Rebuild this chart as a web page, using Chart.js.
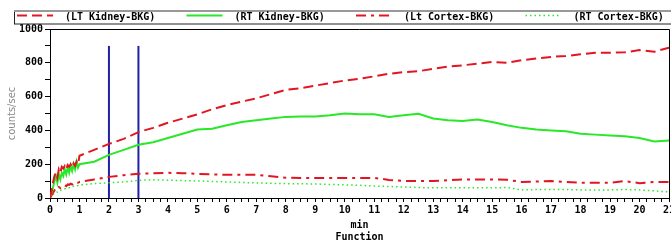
<!DOCTYPE html>
<html lang="en">
<head>
    <meta charset="UTF-8">
    <title>Renogram</title>
    <script src="https://cdn.jsdelivr.net/npm/chart.js@4.4.0/dist/chart.umd.min.js"></script>
    <style>
        body { margin: 0; background: #fff; }
        #wrap { width: 671px; height: 243px; }
    </style>
</head>
<body>
<div id="wrap"><canvas id="renogram" width="671" height="243"></canvas></div>

<script>
    // time (min)
    var times = [0, 0.05, 0.1, 0.15, 0.2, 0.25, 0.3, 0.35, 0.4, 0.45, 0.5, 0.55, 0.6, 0.65, 0.7, 0.75, 0.8, 0.85, 0.9, 0.95, 1,
        1.5, 2, 2.5, 3, 3.5, 4, 4.5, 5, 5.5, 6, 6.5, 7, 7.5, 8, 8.5, 9, 9.5, 10, 10.5, 11,
        11.5, 12, 12.5, 13, 13.5, 14, 14.5, 15, 15.5, 16, 16.5, 17, 17.5, 18, 18.5, 19, 19.5, 20, 20.5, 21];

    // counts/sec
    var ltKidney = [0, 40, 90, 130, 150, 120, 170, 150, 185, 175, 190, 170, 195, 185, 200, 180, 205, 190, 215, 200, 250,
        285, 320, 350, 390, 415, 445, 470, 495, 525, 550, 570, 590, 615, 640, 650, 665, 680, 695, 705, 720,
        735, 745, 750, 765, 778, 785, 795, 805, 800, 815, 825, 835, 840, 850, 860, 860, 862, 875, 865, 890];
    var rtKidney = [0, 30, 60, 100, 130, 90, 140, 110, 150, 130, 170, 140, 180, 150, 190, 160, 200, 170, 215, 180, 200,
        215, 255, 285, 315, 330, 355, 380, 405, 410, 430, 450, 460, 470, 480, 482, 482, 490, 500, 495, 495,
        480, 490, 498, 470, 460, 455, 465, 450, 430, 415, 405, 400, 395, 380, 375, 370, 365, 355, 335, 340];
    var ltCortex = [0, 15, 30, 45, 55, 50, 65, 60, 70, 70, 75, 70, 80, 78, 85, 80, 88, 85, 92, 90, 95,
        110, 125, 135, 143, 147, 149, 147, 143, 140, 137, 137, 137, 128, 120, 119, 119, 119, 119, 119, 119,
        107, 101, 101, 101, 105, 110, 110, 110, 108, 95, 97, 100, 95, 90, 90, 90, 100, 88, 95, 95];
    var rtCortex = [0, 10, 20, 30, 35, 35, 45, 45, 50, 50, 55, 55, 60, 60, 65, 65, 70, 70, 72, 74, 77,
        85, 90, 95, 105, 108, 105, 103, 101, 98, 95, 92, 89, 87, 85, 84, 83, 80, 78, 75, 71,
        68, 65, 62, 60, 60, 60, 60, 60, 62, 48, 50, 50, 50, 48, 48, 48, 50, 48, 42, 36];

    // marker lines (min) and their height
    var markers = [2, 3];
    var markerTop = 900;

    var RED = 'rgb(226,22,32)';
    var GREEN = 'rgb(40,232,40)';
    var BLUE = 'rgb(32,32,168)';
    var MONO = "'DejaVu Sans Mono', monospace";

    function pts(vals) {
        return vals.map(function (v, i) { return { x: times[i], y: v }; });
    }

    var datasets = [
        { label: '(LT Kidney-BKG)', data: pts(ltKidney), borderColor: RED, borderWidth: 2, borderDash: [10, 5] },
        { label: '(RT Kidney-BKG)', data: pts(rtKidney), borderColor: GREEN, borderWidth: 2, borderDash: [] },
        { label: '(Lt Cortex-BKG)', data: pts(ltCortex), borderColor: RED, borderWidth: 2, borderDash: [10, 5, 3, 5] },
        { label: '(RT Cortex-BKG)', data: pts(rtCortex), borderColor: GREEN, borderWidth: 1.5, borderDash: [1.5, 3] }
    ];
    markers.forEach(function (m) {
        datasets.push({ label: 'marker', data: [{ x: m, y: 0 }, { x: m, y: markerTop }], borderColor: BLUE, borderWidth: 2 });
    });

    // boxed legend along the top + frame on top/right of the plot
    var boxLegend = {
        id: 'boxLegend',
        afterDraw: function (chart) {
            var ctx = chart.ctx;
            var a = chart.chartArea;
            ctx.save();
            // plot frame
            ctx.strokeStyle = '#000';
            ctx.lineWidth = 1;
            ctx.beginPath();
            ctx.moveTo(a.left, a.top + 0.5);
            ctx.lineTo(a.right + 0.5, a.top + 0.5);
            ctx.lineTo(a.right + 0.5, a.bottom);
            ctx.stroke();

            // legend box
            ctx.strokeStyle = '#222';
            ctx.strokeRect(14.5, 11.5, 670, 12.5);
            ctx.strokeStyle = '#999';
            ctx.lineWidth = 2;
            ctx.beginPath();
            ctx.moveTo(14, 11);
            ctx.lineTo(671, 11);
            ctx.stroke();

            ctx.font = 'bold 10px ' + MONO;
            ctx.textBaseline = 'middle';
            ctx.textAlign = 'left';
            for (var i = 0; i < 4; i++) {
                var ds = chart.data.datasets[i];
                var x0 = 17 + i * 169.5;
                ctx.strokeStyle = ds.borderColor;
                ctx.lineWidth = ds.borderWidth;
                ctx.setLineDash(ds.borderDash);
                ctx.beginPath();
                ctx.moveTo(x0, 15.5);
                ctx.lineTo(x0 + 36, 15.5);
                ctx.stroke();
                ctx.setLineDash([]);
                ctx.fillStyle = '#000';
                ctx.fillText(ds.label, x0 + 48, 17.5);
            }
            ctx.restore();
        }
    };

    new Chart(document.getElementById('renogram'), {
        type: 'line',
        data: { datasets: datasets },
        options: {
            responsive: false,
            animation: false,
            events: [],
            layout: { padding: { top: 29, right: 2, left: 0, bottom: 0 } },
            elements: {
                point: { radius: 0 },
                line: { tension: 0, fill: false }
            },
            plugins: {
                legend: { display: false },
                tooltip: { enabled: false }
            },
            scales: {
                x: {
                    type: 'linear',
                    min: 0,
                    max: 21,
                    afterFit: function (s) { s.height = 45; s.paddingLeft = 0; s.paddingRight = 0; },
                    border: { display: true, color: '#000', width: 1 },
                    grid: { drawOnChartArea: false, drawTicks: true, tickLength: 4, color: '#000' },
                    ticks: {
                        stepSize: 0.25,
                        autoSkip: false,
                        maxRotation: 0,
                        padding: 2,
                        color: '#000',
                        font: { family: MONO, size: 10, weight: 'bold' },
                        callback: function (v) { return v % 1 === 0 ? String(v) : ''; }
                    },
                    title: {
                        display: true,
                        text: ['min', 'Function'],
                        color: '#000',
                        padding: { top: 2, bottom: 0 },
                        font: { family: MONO, size: 10, weight: 'bold', lineHeight: 1.2 }
                    }
                },
                y: {
                    min: 0,
                    max: 1000,
                    afterFit: function (s) { s.width = 50; s.paddingTop = 0; s.paddingBottom = 0; },
                    border: { display: true, color: '#000', width: 1 },
                    grid: { drawOnChartArea: false, drawTicks: true, tickLength: 5, color: '#000' },
                    ticks: {
                        stepSize: 100,
                        autoSkip: false,
                        padding: 2,
                        color: '#000',
                        font: { family: MONO, size: 10, weight: 'bold' },
                        callback: function (v) { return v % 200 === 0 ? String(v) : ''; }
                    },
                    title: {
                        display: true,
                        text: 'counts/sec',
                        color: '#8a8a8a',
                        padding: { top: 6, bottom: 0 },
                        font: { family: 'DejaVu Sans', size: 10 }
                    }
                }
            }
        },
        plugins: [boxLegend]
    });
</script>
</body>
</html>
